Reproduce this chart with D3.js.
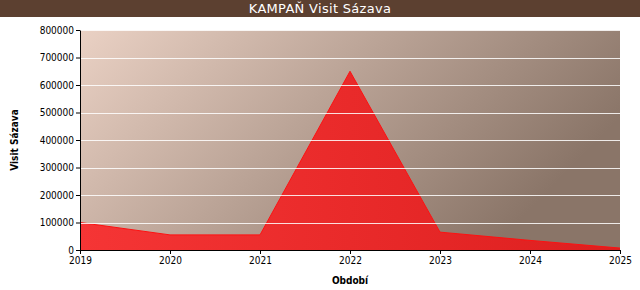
<!DOCTYPE html>
<html>
<head>
<meta charset="utf-8">
<script src="https://cdn.jsdelivr.net/npm/d3@7"></script>
<style>
  body { margin: 0; background: #fff; }
  svg { display: block; font-family: "DejaVu Sans Condensed", "DejaVu Sans", Verdana, sans-serif; }
</style>
</head>
<body>
<div id="chart"></div>
<script>
// data
var years = ["2019", "2020", "2021", "2022", "2023", "2024", "2025"];
var visits = [100000, 55000, 55000, 650000, 65000, 35000, 7000];
var yTicks = [0, 100000, 200000, 300000, 400000, 500000, 600000, 700000, 800000];

var svgWidth = 640;
var svgHeight = 290;

var margin = { top: 30, right: 20, bottom: 40, left: 80 };
var width = svgWidth - margin.left - margin.right;
var height = svgHeight - margin.top - margin.bottom;

var svg = d3.select("#chart")
  .append("svg")
  .attr("width", svgWidth)
  .attr("height", svgHeight);

var defs = svg.append("defs");

var bgGrad = defs.append("linearGradient")
  .attr("id", "bgGrad")
  .attr("x1", "0%").attr("y1", "0%")
  .attr("x2", "100%").attr("y2", "40%");
bgGrad.append("stop").attr("offset", "0%").attr("stop-color", "#ead1c4");
bgGrad.append("stop").attr("offset", "100%").attr("stop-color", "#8a7568");

var areaGrad = defs.append("linearGradient")
  .attr("id", "areaGrad")
  .attr("x1", "0%").attr("y1", "0%")
  .attr("x2", "100%").attr("y2", "0%");
areaGrad.append("stop").attr("offset", "0%").attr("stop-color", "#f53535");
areaGrad.append("stop").attr("offset", "100%").attr("stop-color", "#dd1f1f");

// title bar
svg.append("rect")
  .attr("width", svgWidth)
  .attr("height", 17)
  .attr("fill", "#5c4030");

svg.append("text")
  .attr("x", svgWidth / 2)
  .attr("y", 13)
  .attr("text-anchor", "middle")
  .attr("fill", "#fff")
  .attr("font-family", "DejaVu Sans, Verdana, sans-serif")
  .attr("font-size", 13)
  .attr("letter-spacing", 0.3)
  .text("KAMPAŇ Visit Sázava");

var chartGroup = svg.append("g")
  .attr("transform", `translate(${margin.left}, ${margin.top})`);

var xScale = d3.scalePoint()
  .domain(years)
  .range([0, width]);

var yScale = d3.scaleLinear()
  .domain([0, 800000])
  .range([height, 0]);

// plot background
chartGroup.append("rect")
  .attr("width", width)
  .attr("height", height)
  .attr("fill", "url(#bgGrad)");

// area
var area = d3.area()
  .x((d, i) => xScale(years[i]))
  .y0(height)
  .y1(d => yScale(d));

chartGroup.append("path")
  .datum(visits)
  .attr("d", area)
  .attr("fill", "url(#areaGrad)");

chartGroup.append("path")
  .datum(visits)
  .attr("d", d3.line().x((d, i) => xScale(years[i])).y(d => yScale(d)))
  .attr("fill", "none")
  .attr("stroke", "#ff1010")
  .attr("stroke-width", 1);

// gridlines
chartGroup.selectAll(".grid")
  .data(yTicks.filter(d => d > 0))
  .enter()
  .append("line")
  .attr("x1", 0)
  .attr("x2", width)
  .attr("y1", d => Math.round(yScale(d)) + 0.5)
  .attr("y2", d => Math.round(yScale(d)) + 0.5)
  .attr("stroke", "#fff")
  .attr("stroke-opacity", 0.85)
  .attr("stroke-width", 1);

// axes
var bottomAxis = d3.axisBottom(xScale).tickSize(4).tickSizeOuter(0);
var leftAxis = d3.axisLeft(yScale)
  .tickValues(yTicks)
  .tickFormat(d3.format("d"))
  .tickSize(4)
  .tickSizeOuter(0);

var xAxisG = chartGroup.append("g")
  .attr("transform", `translate(0, ${height})`)
  .call(bottomAxis);

var yAxisG = chartGroup.append("g")
  .call(leftAxis);

[xAxisG, yAxisG].forEach(function(g) {
  g.selectAll("text")
    .attr("fill", "#000")
    .attr("font-size", 10)
    .attr("font-family", "DejaVu Sans Condensed, DejaVu Sans, sans-serif");
  g.selectAll("line").attr("stroke", "#000");
  g.select(".domain").attr("stroke", "#000");
});
yAxisG.selectAll("text").attr("x", -6);
xAxisG.selectAll("text").attr("y", 7);

// axis labels
chartGroup.append("text")
  .attr("transform", "rotate(-90)")
  .attr("x", 0 - height / 2)
  .attr("y", 0 - margin.left + 18)
  .attr("text-anchor", "middle")
  .attr("font-size", 10)
  .attr("font-weight", "bold")
  .text("Visit Sázava");

chartGroup.append("text")
  .attr("x", width / 2)
  .attr("y", height + 34)
  .attr("text-anchor", "middle")
  .attr("font-size", 10)
  .attr("font-weight", "bold")
  .text("Období");
</script>
</body>
</html>
